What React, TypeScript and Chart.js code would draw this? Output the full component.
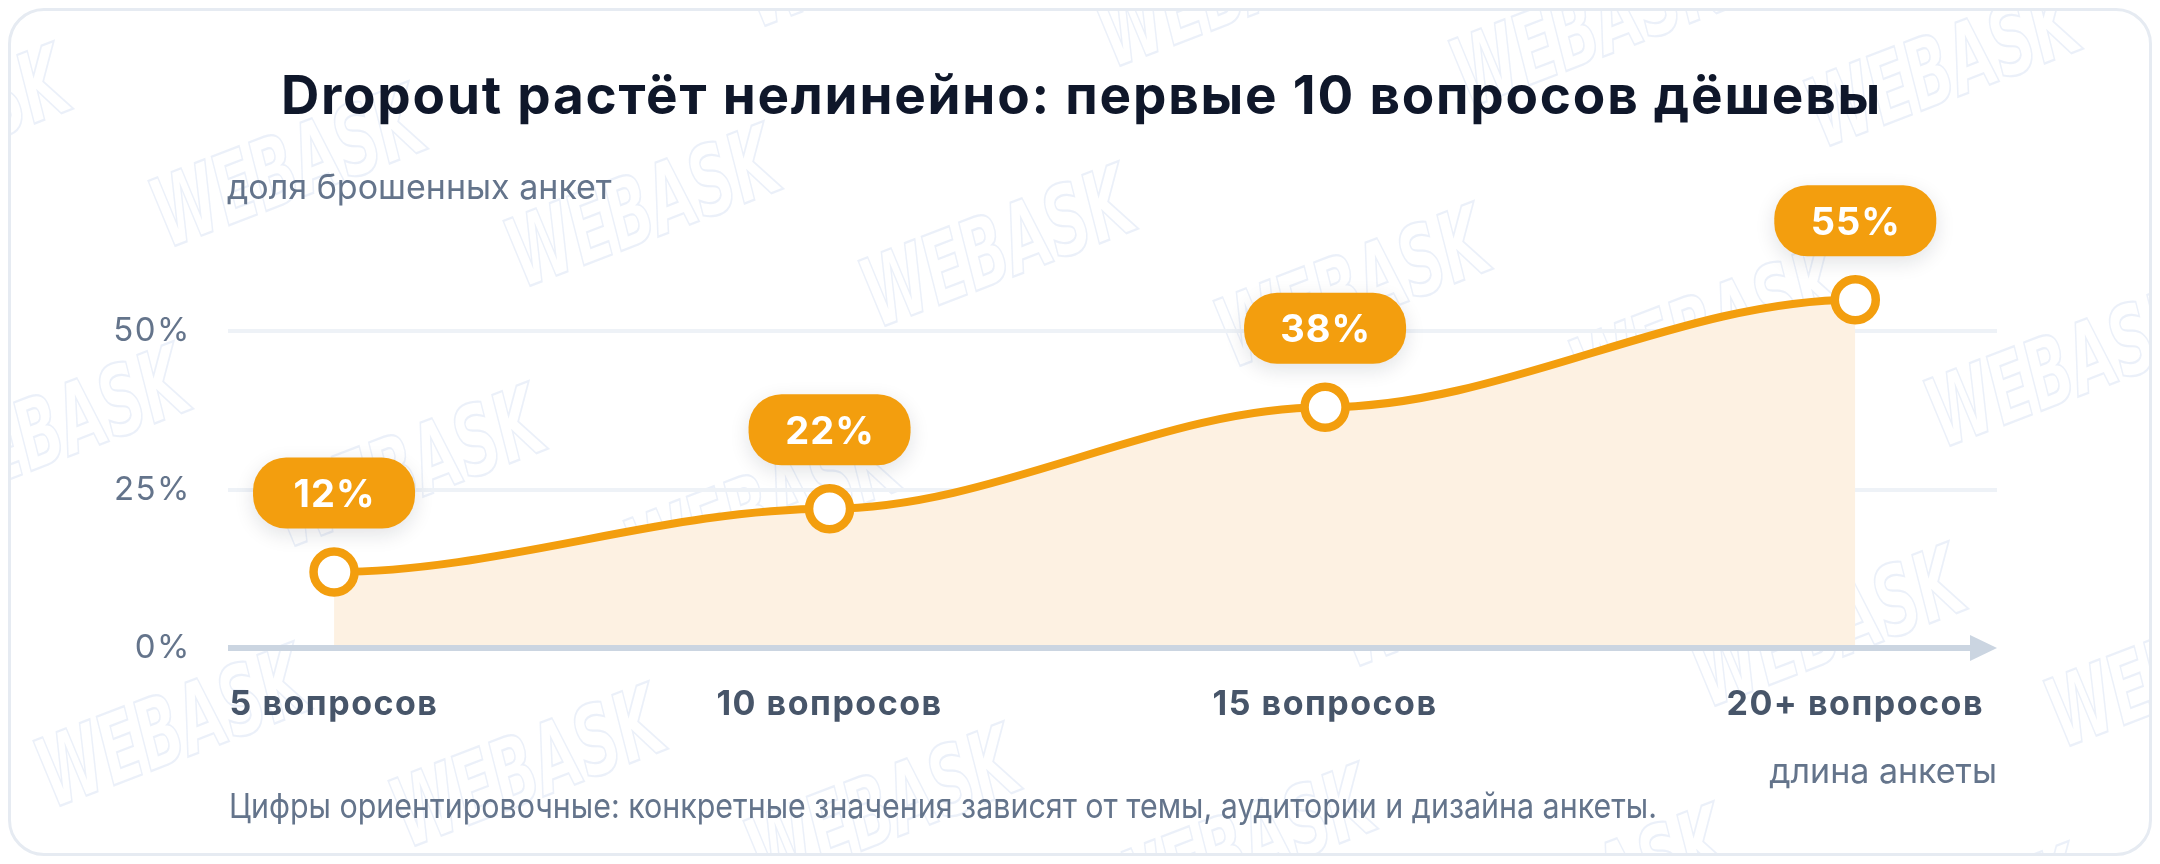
import React, { useEffect, useRef } from "react";
import { Chart, registerables } from "chart.js";

Chart.register(...registerables);

// ---- data ----
const xLabels = ["5 вопросов", "10 вопросов", "15 вопросов", "20+ вопросов"];
const questionCounts = [5, 10, 15, 20.35];
const dropoutPct = [12, 22, 38, 55];
const yTickValues = [0, 25, 50];

const titleText = "Dropout растёт нелинейно: первые 10 вопросов дёшевы";
const yCaption = "доля брошенных анкет";
const xCaption = "длина анкеты";
const footnote =
  "Цифры ориентировочные: конкретные значения зависят от темы, аудитории и дизайна анкеты.";
const watermarkText = "WEBASK";

// ---- style ----
const FONT = "Inter, 'Noto Sans', sans-serif";
const AMBER = "#f39e0e";
const FILL = "#fdf1e2";
const W = 2138;
const H = 842;

const flatCurvePlugin = {
  id: "flatCurve",
  beforeDraw(chart: any) {
    const meta = chart.getDatasetMeta(0);
    const line = meta.dataset;
    if (line && line.updateControlPoints) line.updateControlPoints(chart.chartArea, "x");
    const pts = meta.data;
    for (let i = 0; i < pts.length; i++) {
      const p = pts[i];
      const prev = pts[i - 1];
      const next = pts[i + 1];
      const dl = prev ? (p.x - prev.x) / 3 : 0;
      const dr = next ? (next.x - p.x) / 3 : 0;
      p.cp1x = p.x - dl;
      p.cp1y = p.y;
      p.cp2x = p.x + dr;
      p.cp2y = p.y;
    }
  },
};

const watermarkPlugin = {
  id: "watermark",
  beforeDraw(chart: any) {
    const ctx = chart.ctx;
    ctx.save();
    ctx.strokeStyle = "rgba(203,216,240,0.38)";
    ctx.lineWidth = 2;
    ctx.font = `italic bold 86px 'DejaVu Sans'`;
    ctx.textAlign = "center";
    ctx.textBaseline = "middle";
    const ox = 279, oy = 164;
    for (let i = -4; i < 9; i++) {
      for (let j = -2; j < 5; j++) {
        const cx = ox + i * 355 + j * 120;
        const cy = oy + i * 40 + j * 300;
        if (cx < -250 || cx > W + 250 || cy < -150 || cy > H + 150) continue;
        ctx.save();
        ctx.translate(cx, cy);
        ctx.rotate((-21 * Math.PI) / 180);
        ctx.scale(0.68, 1.12);
        ctx.strokeText(watermarkText, 0, 0);
        ctx.restore();
      }
    }
    ctx.restore();
    // letter spacing for the scale labels drawn next
    ctx.letterSpacing = "1.5px";
  },
  beforeDatasetsDraw(chart: any) {
    chart.ctx.letterSpacing = "0px";
  },
};

const decorPlugin = {
  id: "decor",
  afterDatasetsDraw(chart: any) {
    const ctx = chart.ctx;
    const area = chart.chartArea;
    const ys = chart.scales.y;
    const y0 = ys.getPixelForValue(0);

    // x axis line with arrow
    ctx.save();
    ctx.strokeStyle = "#cbd5e1";
    ctx.fillStyle = "#cbd5e1";
    ctx.lineWidth = 6;
    ctx.beginPath();
    ctx.moveTo(area.left, y0);
    ctx.lineTo(area.right - 20, y0);
    ctx.stroke();
    ctx.beginPath();
    ctx.moveTo(area.right, y0);
    ctx.lineTo(area.right - 27, y0 - 13);
    ctx.lineTo(area.right - 27, y0 + 13);
    ctx.closePath();
    ctx.fill();
    ctx.restore();

    // value pills
    const meta = chart.getDatasetMeta(0);
    const pw = 162, ph = 71, pr = 33;
    meta.data.forEach((p: any, i: number) => {
      const cx = p.x;
      const cy = p.y - 79;
      ctx.save();
      ctx.shadowColor = "rgba(15,23,42,0.12)";
      ctx.shadowBlur = 20;
      ctx.shadowOffsetY = 6;
      ctx.fillStyle = AMBER;
      ctx.beginPath();
      ctx.roundRect(cx - pw / 2, cy - ph / 2, pw, ph, pr);
      ctx.fill();
      ctx.restore();
      ctx.save();
      ctx.fillStyle = "#ffffff";
      ctx.font = `bold 38px ${FONT}`;
      ctx.letterSpacing = "1px";
      ctx.textAlign = "center";
      ctx.textBaseline = "alphabetic";
      ctx.fillText(`${dropoutPct[i]}%`, cx + 0.5, cy + 14);
      ctx.restore();
    });
  },
  afterDraw(chart: any) {
    const ctx = chart.ctx;
    const area = chart.chartArea;
    ctx.save();
    ctx.textBaseline = "alphabetic";
    // title
    ctx.fillStyle = "#0f172a";
    ctx.font = `bold 53px ${FONT}`;
    ctx.letterSpacing = "1.8px";
    ctx.textAlign = "center";
    ctx.fillText(titleText, W / 2 + 1.5, 102.5);
    ctx.letterSpacing = "0px";
    // y caption
    ctx.fillStyle = "#64748b";
    ctx.font = `34px ${FONT}`;
    ctx.textAlign = "left";
    ctx.fillText(yCaption, area.left - 1, 188);
    // x caption
    ctx.textAlign = "right";
    ctx.fillText(xCaption, area.right, 772);
    // footnote
    ctx.textAlign = "left";
    ctx.fillText(footnote, area.left + 1, 807, 1428);
    ctx.restore();
  },
};

export default function App() {
  const ref = useRef<HTMLCanvasElement | null>(null);

  useEffect(() => {
    if (!ref.current) return;
    const chart = new Chart(ref.current, {
      type: "line",
      data: {
        datasets: [
          {
            data: questionCounts.map((x, i) => ({ x, y: dropoutPct[i] })),
            borderColor: AMBER,
            borderWidth: 8,
            backgroundColor: FILL,
            fill: "origin",
            tension: 0.4,
            pointRadius: 20.5,
            pointHoverRadius: 20.5,
            pointBorderWidth: 8.5,
            pointBackgroundColor: "#ffffff",
            pointBorderColor: AMBER,
            clip: false as any,
          },
        ],
      },
      options: {
        animation: false,
        responsive: false,
        devicePixelRatio: 1,
        events: [],
        layout: { padding: { left: 67, right: 152, top: 257, bottom: 105 } },
        plugins: {
          legend: { display: false },
          tooltip: { enabled: false },
          title: { display: false },
        },
        scales: {
          x: {
            type: "linear",
            min: 3.93,
            max: 21.78,
            grid: { display: false },
            border: { display: false },
            afterBuildTicks: (s: any) => {
              s.ticks = questionCounts.map((v) => ({ value: v }));
            },
            afterFit: (s: any) => {
              s.height = 100;
            },
            ticks: {
              autoSkip: false,
              maxRotation: 0,
              minRotation: 0,
              padding: 28,
              color: "#475569",
              font: { family: FONT, size: 34, weight: "bold" },
              callback: (_v: any, i: number) => xLabels[i],
            },
          },
          y: {
            type: "linear",
            min: 0,
            max: 60,
            border: { display: false },
            grid: {
              drawTicks: false,
              lineWidth: 4,
              color: (c: any) => (c.tick && c.tick.value === 0 ? "rgba(0,0,0,0)" : "#eef2f7"),
            },
            afterBuildTicks: (s: any) => {
              s.ticks = yTickValues.map((v) => ({ value: v }));
            },
            afterFit: (s: any) => {
              s.width = 150;
            },
            ticks: {
              padding: 37,
              color: "#64748b",
              font: { family: FONT, size: 33 },
              callback: (v: any) => `${v}%`,
            },
          },
        },
      },
      plugins: [watermarkPlugin, flatCurvePlugin, decorPlugin],
    } as any);
    return () => chart.destroy();
  }, []);

  return (
    <div
      style={{
        width: 2144,
        height: 848,
        boxSizing: "border-box",
        border: "3px solid #e6ebf2",
        borderRadius: 36,
        background: "#ffffff",
        position: "relative",
        overflow: "hidden",
      }}
    >
      <canvas
        ref={ref}
        width={W}
        height={H}
        style={{ position: "absolute", left: 0, top: 0, width: W, height: H, display: "block" }}
      />
    </div>
  );
}
